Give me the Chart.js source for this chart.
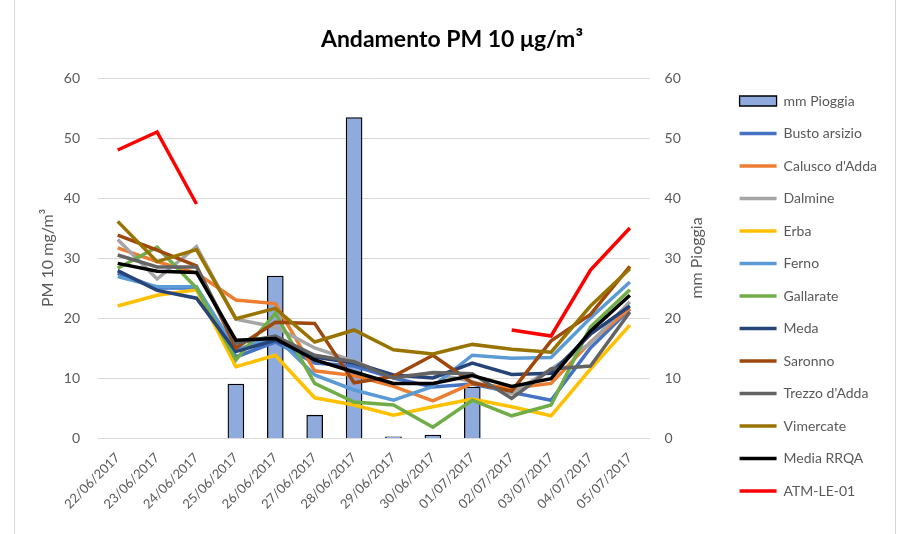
<!DOCTYPE html>
<html>
<head>
<meta charset="utf-8">
<script src="https://cdn.jsdelivr.net/npm/chart.js@4/dist/chart.umd.min.js"></script>
<style>
  html, body { margin: 0; padding: 0; background: #fff; }
  #wrap { position: relative; width: 901px; height: 534px; }
  #frame { position: absolute; left: 14px; top: 0; width: 882px; height: 534px;
           border-left: 1px solid #D9D9D9; border-right: 1px solid #D9D9D9; box-sizing: border-box; }
  canvas { position: absolute; left: 0; top: 0; }
</style>
</head>
<body>
<div id="wrap">
  <div id="frame"></div>
  <canvas id="pmChart" width="901" height="534"></canvas>
</div>
<script>
const dates = ['22/06/2017', '23/06/2017', '24/06/2017', '25/06/2017', '26/06/2017', '27/06/2017', '28/06/2017',
  '29/06/2017', '30/06/2017', '01/07/2017', '02/07/2017', '03/07/2017', '04/07/2017', '05/07/2017'];

const rainMm = [null, null, null, 9, 27, 3.8, 53.4, 0.2, 0.5, 8.5, null, null, null, null];

const bustoArsizio = [27.5, 25, 25, 13.5, 16, 12.5, 12, 10, 8.5, 9, 7.6, 6.3, 15, 21.5];
const caluscoDAdda = [31.7, 29.4, 27.5, 23, 22.4, 11.2, 10.4, 8.6, 6.2, 9.1, 8.3, 9.1, 16, 21.6];
const dalmine = [33.1, 26.5, 31.9, 19.8, 18.5, 15, 12.8, 10.2, 10.8, 9.4, 7.4, 11.5, 15.8, 22.7];
const erba = [22, 23.8, 24.7, 11.9, 13.8, 6.7, 5.5, 3.8, 5.2, 6.5, 5.2, 3.7, 11.5, 18.8];
const ferno = [26.9, 25.2, 25.2, 14.7, 16.9, 10.5, 8, 6.3, 8.6, 13.8, 13.3, 13.4, 20, 26];
const gallarate = [28.3, 31.8, 25, 13, 20.8, 9.1, 6, 5.5, 1.8, 6.3, 3.7, 5.5, 18.5, 24.7];
const meda = [27.9, 24.6, 23.3, 14.4, 16.3, 13.5, 12.5, 10.5, 10, 12.5, 10.6, 10.8, 17.3, 22];
const saronno = [33.8, 31.3, 28.7, 15, 19.3, 19.1, 9.2, 10.3, 13.8, 9.2, 7.8, 16.2, 20.6, 28.6];
const trezzoDAdda = [30.5, 28.5, 28.5, 15.8, 17, 13.8, 12.7, 10, 10.9, 10.7, 6.6, 11.5, 12, 21];
const vimercate = [36.1, 29.4, 31.4, 19.9, 21.6, 16, 18, 14.7, 14, 15.6, 14.8, 14.3, 22, 28.2];
const mediaRRQA = [29.1, 27.8, 27.6, 16.3, 16.6, 13, 11, 9.1, 9.1, 10.4, 8.6, 9.9, 17.8, 23.8];
const atmLe01 = [48, 51, 39, null, null, null, null, null, null, null, 18, 17, 28, 35];

const stations = [
  ['Busto arsizio', bustoArsizio, '#4472C4'],
  ["Calusco d'Adda", caluscoDAdda, '#ED7D31'],
  ['Dalmine', dalmine, '#A5A5A5'],
  ['Erba', erba, '#FFC000'],
  ['Ferno', ferno, '#5B9BD5'],
  ['Gallarate', gallarate, '#70AD47'],
  ['Meda', meda, '#264478'],
  ['Saronno', saronno, '#9E480E'],
  ["Trezzo d'Adda", trezzoDAdda, '#636363'],
  ['Vimercate', vimercate, '#997300'],
  ['Media RRQA', mediaRRQA, '#000000'],
  ['ATM-LE-01', atmLe01, '#FF0000']
];

const textColor = '#595959';
const fontFamily = 'Lato, "Liberation Sans", sans-serif';

const datasets = [{
  type: 'bar',
  label: 'mm Pioggia',
  data: rainMm,
  yAxisID: 'y1',
  backgroundColor: '#8FAADC',
  borderColor: '#000000',
  borderWidth: 1.3,
  barThickness: 16,
  order: 50
}];

stations.forEach(([name, values, color], i) => {
  datasets.push({
    type: 'line',
    label: name,
    data: values,
    yAxisID: 'y',
    borderColor: color,
    backgroundColor: color,
    borderWidth: 3.5,
    pointRadius: 0,
    pointHoverRadius: 0,
    tension: 0,
    spanGaps: false,
    order: 40 - i
  });
});

// right axis title reads bottom-to-top, like the left one;
// the chart title is centred over the whole frame, not only left of the padding
const axisExtras = {
  id: 'axisExtras',
  afterLayout(chart) {
    if (chart.titleBlock) {
      chart.titleBlock.left = 0;
      chart.titleBlock.right = 904;
    }
  },
  afterDraw(chart) {
    const ctx = chart.ctx;
    const area = chart.chartArea;
    ctx.save();
    ctx.translate(697, (area.top + area.bottom) / 2);
    ctx.rotate(-Math.PI / 2);
    ctx.font = '16px ' + fontFamily;
    ctx.fillStyle = textColor;
    ctx.textAlign = 'center';
    ctx.textBaseline = 'middle';
    ctx.fillText('mm Pioggia', 0, 0);
    ctx.restore();
  }
};

new Chart(document.getElementById('pmChart'), {
  data: { labels: dates, datasets: datasets },
  plugins: [axisExtras],
  options: {
    responsive: false,
    animation: false,
    layout: { padding: { left: 0, right: 14, top: 0, bottom: 0 } },
    plugins: {
      title: {
        display: true,
        text: 'Andamento PM 10 \u03BCg/m\u00B3',
        color: '#000000',
        font: { family: fontFamily, size: 23, weight: 'bold' },
        padding: { top: 26.2, bottom: 24.2 }
      },
      legend: {
        position: 'right',
        align: 'start',
        maxWidth: 200,
        title: { display: true, text: ' ', font: { size: 10 }, padding: { top: 63.5, bottom: 0 } },
        labels: {
          usePointStyle: true,
          pointStyleWidth: 37,
          boxHeight: 10,
          padding: 18.5,
          color: textColor,
          font: { family: fontFamily, size: 14 },
          sort: (a, b) => a.datasetIndex - b.datasetIndex,
          generateLabels: chart => {
            const items = Chart.defaults.plugins.legend.labels.generateLabels(chart);
            items.forEach(item => {
              const ds = chart.data.datasets[item.datasetIndex];
              item.pointStyle = ds.type === 'bar' ? 'rect' : 'line';
            });
            return items;
          }
        }
      },
      tooltip: { enabled: false }
    },
    scales: {
      x: {
        offset: true,
        grid: { display: false },
        border: { color: '#D9D9D9' },
        ticks: {
          color: textColor,
          font: { family: fontFamily, size: 13 },
          minRotation: 45,
          maxRotation: 45,
          padding: 4
        },
        afterFit: scale => { scale.height = 96; }
      },
      y: {
        position: 'left',
        min: 0,
        max: 60,
        grid: { color: '#D9D9D9', drawTicks: false },
        border: { display: false },
        ticks: { stepSize: 10, padding: 18, color: textColor, font: { family: fontFamily, size: 14 } },
        title: {
          display: true,
          text: 'PM 10 mg/m\u00B3',
          color: textColor,
          font: { family: fontFamily, size: 16 },
          padding: { top: 38.4, bottom: 0 }
        },
        afterFit: scale => { scale.width = 98; }
      },
      y1: {
        position: 'right',
        min: 0,
        max: 60,
        grid: { display: false, drawTicks: false },
        border: { display: false },
        ticks: { stepSize: 10, padding: 15, color: textColor, font: { family: fontFamily, size: 14 } },
        afterFit: scale => { scale.width = 71.5; }
      }
    }
  }
});
</script>
</body>
</html>
